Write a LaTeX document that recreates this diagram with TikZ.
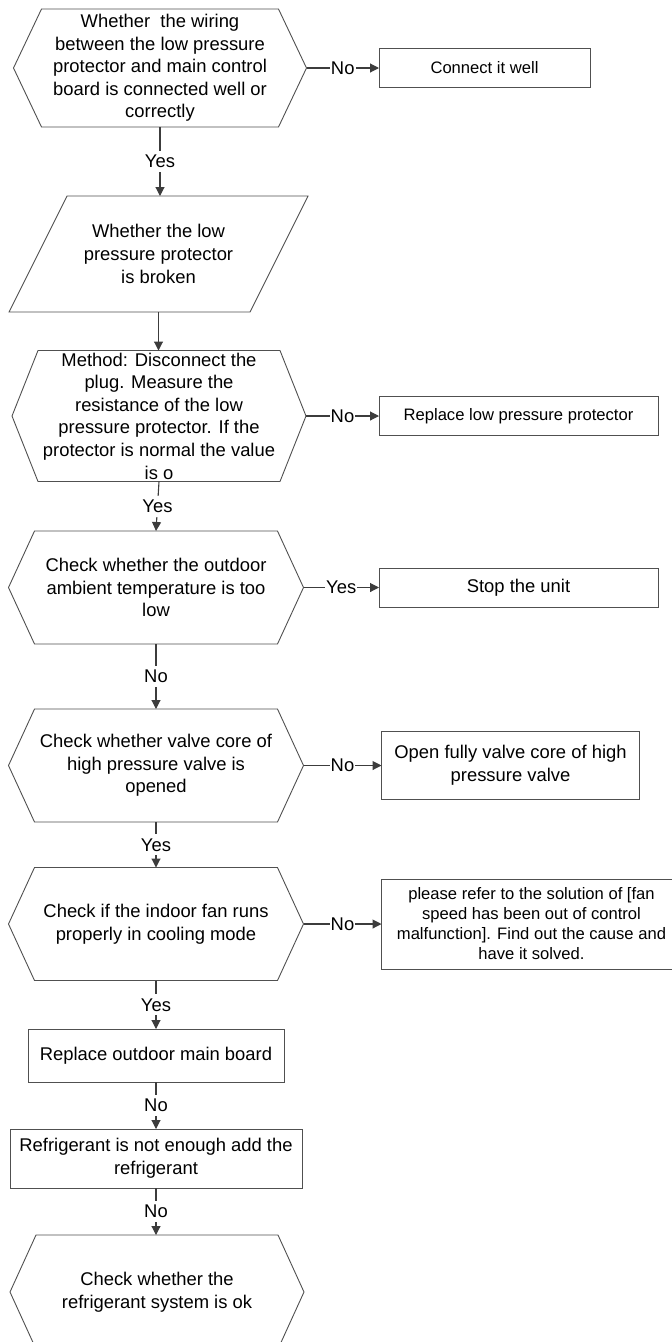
\documentclass[tikz,border=0pt]{standalone}
\usepackage{fontspec}
\setmainfont{Liberation Sans}
\usetikzlibrary{positioning,arrows.meta}
\definecolor{linegray}{HTML}{3C3C3C}
\definecolor{boxgray}{HTML}{505050}

\begin{document}
\begin{tikzpicture}[x=1pt,y=-1pt,
  hexa/.style={inner sep=0pt,outer sep=0pt,align=center,font=\fontsize{18.4}{22.6}\selectfont},
  act/.style={hexa,draw=boxgray,line width=0.9pt},
  actsmall/.style={act,font=\fontsize{16.6}{20}\selectfont},
  conn/.style={draw=linegray,line width=1.1pt,-{Triangle[length=9pt,width=9pt]}},
  lbl/.style={fill=white,inner xsep=1pt,inner ysep=4pt,font=\fontsize{18.4}{22}\selectfont}]

\useasboundingbox (0,0) rectangle (672,1342);

\node[hexa,minimum width=293,minimum height=118] (q1) at (160,68) {Whether\ \ the wiring\\between the low pressure\\protector and main control\\board is connected well or\\correctly};
\node[hexa,minimum width=299,minimum height=116] (p1) at (158.5,254) {Whether the low\\pressure protector\\is broken};
\node[hexa,minimum width=294,minimum height=131] (q2) at (159,416) {Method: Disconnect the\\plug. Measure the\\resistance of the low\\pressure protector. If the\\protector is normal the value\\is o};
\node[hexa,minimum width=295,minimum height=113] (q3) at (156,587.5) {Check whether the outdoor\\ambient temperature is too\\low};
\node[hexa,minimum width=295,minimum height=113] (q4) at (156,765.5) {Check whether valve core of\\high pressure valve is\\opened};
\node[hexa,minimum width=295,minimum height=113] (q5) at (156,924) {Check if the indoor fan runs\\properly in cooling mode};
\node[act,minimum width=256,minimum height=53] (b1) at (156,1055.5) {Replace outdoor main board};
\node[act,minimum width=292,minimum height=59] (b2) at (156,1158.5) {Refrigerant is not enough add the\\refrigerant};
\node[hexa,minimum width=294,minimum height=114] (q6) at (157,1292) {Check whether the\\refrigerant system is ok};

\node[actsmall,minimum width=211,minimum height=39] (r1) at (484.5,68) {Connect it well};
\node[actsmall,minimum width=279,minimum height=39] (r2) at (518.5,416) {Replace low pressure protector};
\node[act,minimum width=279,minimum height=39] (r3) at (518.5,587.5) {Stop the unit};
\node[act,minimum width=258,minimum height=68] (r4) at (510.5,765.5) {Open fully valve core of high\\pressure valve};
\node[actsmall,minimum width=300,minimum height=90] (r5) at (531.5,924) {please refer to the solution of [fan\\speed has been out of control\\malfunction]. Find out the cause and\\have it solved.};

\foreach \n/\d in {q1/28,q2/26,q3/26,q4/26,q5/26,q6/26}
  \draw[boxgray,line width=0.9pt] ([xshift=\d pt]\n.north west) -- ([xshift=-\d pt]\n.north east) -- (\n.east)
    -- ([xshift=-\d pt]\n.south east) -- ([xshift=\d pt]\n.south west) -- (\n.west) -- cycle;
\draw[boxgray,line width=0.9pt] ([xshift=58pt]p1.north west) -- (p1.north east) -- ([xshift=-58pt]p1.south east) -- (p1.south west) -- cycle;

\draw[conn] (q1.south) -- node[lbl]{Yes} (q1.south |- p1.north);
\draw[conn] (p1.south) -- (p1.south |- q2.north);
\draw[conn] (q2.south) -- node[lbl]{Yes} (q3.north);
\draw[conn] (q3.south) -- node[lbl]{No} (q4.north);
\draw[conn] (q4.south) -- node[lbl]{Yes} (q5.north);
\draw[conn] (q5.south) -- node[lbl]{Yes} (b1.north);
\draw[conn] (b1.south) -- node[lbl]{No} (b2.north);
\draw[conn] (b2.south) -- node[lbl]{No} (b2.south |- q6.north);

\draw[conn] (q1.east) -- node[lbl]{No} (r1.west);
\draw[conn] (q2.east) -- node[lbl]{No} (r2.west);
\draw[conn] (q3.east) -- node[lbl]{Yes} (r3.west);
\draw[conn] (q4.east) -- node[lbl]{No} (r4.west);
\draw[conn] (q5.east) -- node[lbl]{No} (r5.west);

\end{tikzpicture}
\end{document}
